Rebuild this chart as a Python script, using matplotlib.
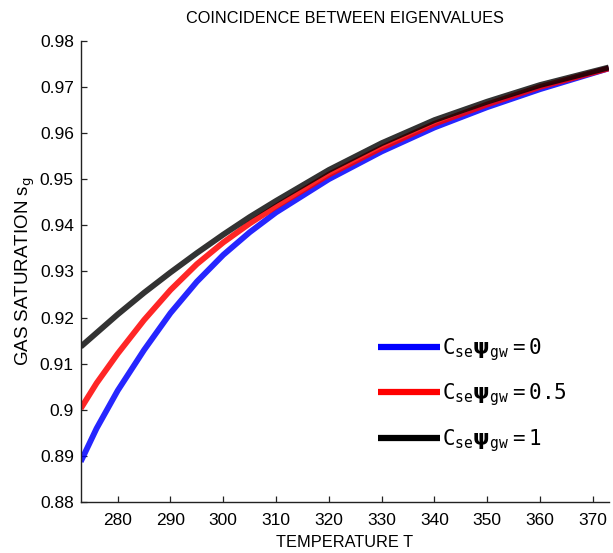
"""Gas saturation at coincidence of eigenvalues vs temperature."""

import matplotlib
matplotlib.use("Agg")
import matplotlib.pyplot as plt

plt.rcParams["font.family"] = ["Liberation Sans", "DejaVu Sans"]
plt.rcParams["mathtext.fontset"] = "dejavusans"

temperature = [273, 276, 280, 285, 290, 295, 300, 305, 310, 320, 330, 340, 350, 360, 373]
sg_c0 = [0.8888, 0.8960, 0.9042, 0.9130, 0.9210, 0.9278, 0.9336, 0.9385, 0.9428,
         0.9500, 0.9560, 0.9612, 0.9656, 0.9695, 0.9740]
sg_c05 = [0.9003, 0.9058, 0.9122, 0.9195, 0.9260, 0.9316, 0.9363, 0.9404, 0.9441,
          0.9510, 0.9568, 0.9620, 0.9662, 0.9700, 0.9740]
sg_c1 = [0.9137, 0.9167, 0.9207, 0.9254, 0.9298, 0.9340, 0.9380, 0.9418, 0.9453,
         0.9520, 0.9578, 0.9628, 0.9668, 0.9704, 0.9742]

labels = [r"$\mathtt{C_{se}}\mathbf{\psi}_{\mathtt{gw}}\mathtt{=0}$",
          r"$\mathtt{C_{se}}\mathbf{\psi}_{\mathtt{gw}}\mathtt{=0.5}$",
          r"$\mathtt{C_{se}}\mathbf{\psi}_{\mathtt{gw}}\mathtt{=1}$"]
colors = ["#0000ff", "#ff0000", "#000000"]


def main():
    fig = plt.figure(figsize=(6.13, 5.53), dpi=100)
    ax = fig.add_axes([0.1317, 0.0917, 0.8613, 0.8347])

    for y, c, lab in zip([sg_c0, sg_c05, sg_c1], colors, labels):
        ax.plot(temperature, y, color=c, lw=4.2, alpha=0.85 if c != "#000000" else 0.8,
                label=lab, solid_capstyle="butt", solid_joinstyle="round")

    ax.set_xlim(273, 373)
    ax.set_ylim(0.88, 0.98)
    ax.set_xticks(range(280, 371, 10))
    ax.set_yticks([0.88, 0.89, 0.9, 0.91, 0.92, 0.93, 0.94, 0.95, 0.96, 0.97, 0.98])
    ax.set_yticklabels(["0.88", "0.89", "0.9", "0.91", "0.92", "0.93", "0.94",
                        "0.95", "0.96", "0.97", "0.98"])

    for s in ("top", "right"):
        ax.spines[s].set_visible(False)
    for s in ("left", "bottom"):
        ax.spines[s].set_color("#222222")
        ax.spines[s].set_linewidth(1.0)
    ax.tick_params(direction="in", length=4, width=0.9, labelsize=12.5,
                   color="#222222")
    ax.tick_params(axis="x", pad=8)
    ax.tick_params(axis="y", pad=5)

    ax.set_title("COINCIDENCE BETWEEN EIGENVALUES", fontsize=11.7, pad=13)
    ax.set_xlabel("TEMPERATURE T", fontsize=11.8, labelpad=5)
    ax.set_ylabel("GAS SATURATION s$_\\mathsf{g}$", fontsize=13.5, labelpad=2)

    leg = ax.legend(loc="lower left", bbox_to_anchor=(0.563, 0.105), frameon=False,
                    fontsize=15, handlelength=3.0, handletextpad=0.05,
                    labelspacing=0.9, borderpad=0, borderaxespad=0)
    for h in leg.get_lines():
        h.set_linewidth(4.5)
        h.set_alpha(1)

    fig.savefig("out.png", dpi=100)


if __name__ == "__main__":
    main()
